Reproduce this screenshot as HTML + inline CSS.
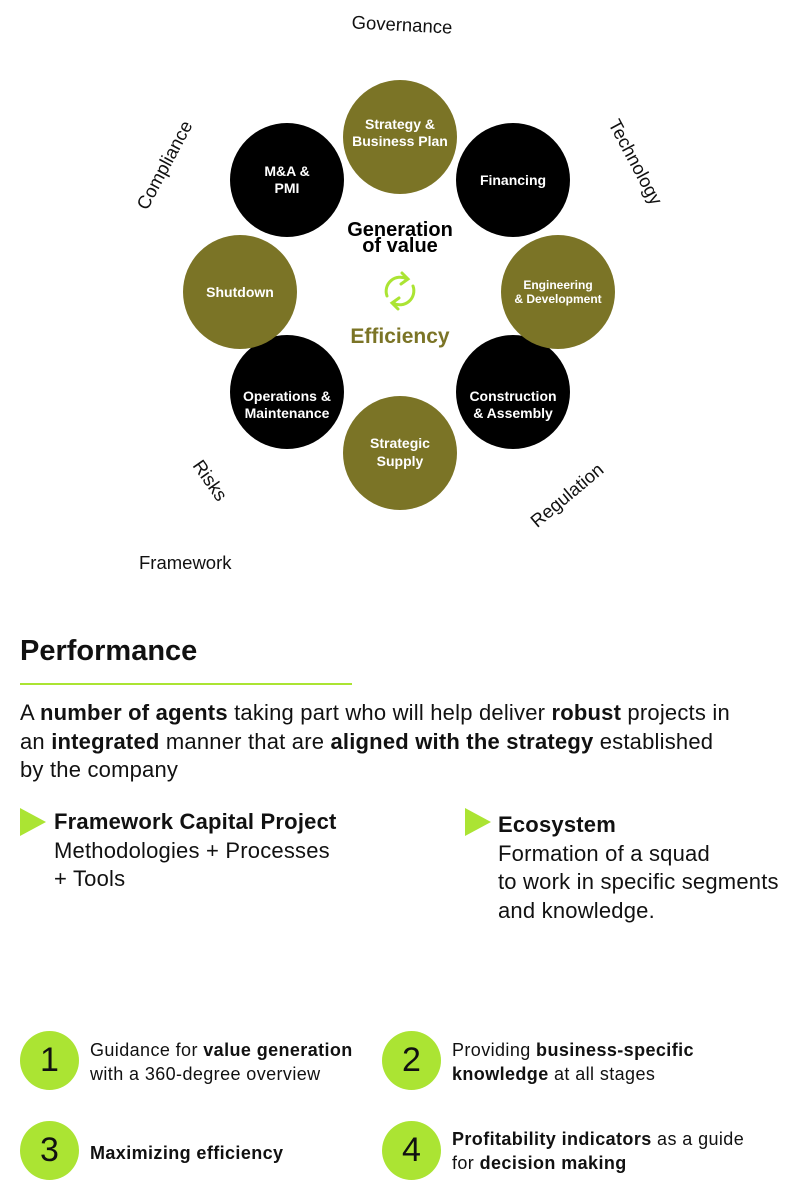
<!DOCTYPE html>
<html><head><meta charset="utf-8"><style>
*{margin:0;padding:0;box-sizing:border-box}
body{width:800px;height:1201px;background:#fff;position:relative;overflow:hidden;font-family:"Liberation Sans",sans-serif;color:#111}
.a{position:absolute;white-space:nowrap}
.p{font-size:22px;letter-spacing:0.2px;line-height:28.5px}
b{font-weight:bold}
.num{position:absolute;width:59px;height:59px;border-radius:50%;background:#abe433;font-size:34px;text-align:center;line-height:59px;color:#111}
.s{font-size:18px;letter-spacing:0.4px;line-height:24px}
.tri{position:absolute;width:0;height:0;border-top:14px solid transparent;border-bottom:14px solid transparent;border-left:26px solid #abe433}
</style></head><body>
<svg class="a" style="left:0;top:0" width="800" height="600" viewBox="0 0 800 600" font-family="Liberation Sans, sans-serif">
<g fill="#000">
<circle cx="287" cy="180" r="57"/><circle cx="513" cy="180" r="57"/>
<circle cx="287" cy="392" r="57"/><circle cx="513" cy="392" r="57"/>
</g>
<g fill="#7b7426">
<circle cx="400" cy="137" r="57"/><circle cx="240" cy="292" r="57"/>
<circle cx="558" cy="292" r="57"/><circle cx="400" cy="453" r="57"/>
</g>
<g fill="#fff" font-weight="bold" text-anchor="middle" font-size="14">
<text x="400" y="129">Strategy &amp;</text><text x="400" y="146">Business Plan</text>
<text x="287" y="176">M&amp;A &amp;</text><text x="287" y="193">PMI</text>
<text x="513" y="185">Financing</text>
<text x="240" y="297">Shutdown</text>
<text x="558" y="289" font-size="12">Engineering</text><text x="558" y="303" font-size="12">&amp; Development</text>
<text x="287" y="401">Operations &amp;</text><text x="287" y="418">Maintenance</text>
<text x="513" y="401">Construction</text><text x="513" y="418">&amp; Assembly</text>
<text x="400" y="448">Strategic</text><text x="400" y="466">Supply</text>
</g>
<g text-anchor="middle" font-weight="bold" font-size="20" fill="#000">
<text x="400" y="236">Generation</text><text x="400" y="252">of value</text>
</g>
<text x="400" y="343" text-anchor="middle" font-weight="bold" font-size="21" fill="#7b7426">Efficiency</text>
<g fill="none" stroke="#abe433" stroke-width="3" stroke-linecap="round">
<path d="M387 296 A14 14 0 0 1 407 279"/><path d="M402 273 L408 279 L401 284"/>
<path d="M413 286 A14 14 0 0 1 393 303"/><path d="M398 309 L392 303 L399 298"/>
</g>
<g font-size="18.5" fill="#111">
<text x="402" y="31" text-anchor="middle" transform="rotate(3 402 25)">Governance</text>
<text x="170" y="168" text-anchor="middle" transform="rotate(-62 170 168)">Compliance</text>
<text x="630" y="165" text-anchor="middle" transform="rotate(62 630 165)">Technology</text>
<text x="205" y="484" text-anchor="middle" transform="rotate(55 205 484)">Risks</text>
<text x="571" y="500" text-anchor="middle" transform="rotate(-40 571 500)">Regulation</text>
<text x="139" y="569">Framework</text>
</g>
</svg>
<div class="a" style="left:20px;top:635px;font-size:29px;font-weight:bold">Performance</div>
<div class="a" style="left:20px;top:683px;width:332px;height:2px;background:#abe433"></div>
<div class="a p" style="left:20px;top:699px">A <b>number of agents</b> taking part who will help deliver <b>robust</b> projects in<br>an <b>integrated</b> manner that are <b>aligned with the strategy</b> established<br>by the company</div>
<div class="tri" style="left:20px;top:808px"></div>
<div class="a p" style="left:54px;top:808px"><b>Framework Capital Project</b><br>Methodologies + Processes<br>+ Tools</div>
<div class="tri" style="left:465px;top:808px"></div>
<div class="a p" style="left:498px;top:811px"><b>Ecosystem</b><br>Formation of a squad<br>to work in specific segments<br>and knowledge.</div>
<div class="num" style="left:20px;top:1031px">1</div>
<div class="a s" style="left:90px;top:1038px">Guidance for <b>value generation</b><br>with a 360-degree overview</div>
<div class="num" style="left:382px;top:1031px">2</div>
<div class="a s" style="left:452px;top:1038px">Providing <b>business-specific</b><br><b>knowledge</b> at all stages</div>
<div class="num" style="left:20px;top:1121px">3</div>
<div class="a s" style="left:90px;top:1141px"><b>Maximizing efficiency</b></div>
<div class="num" style="left:382px;top:1121px">4</div>
<div class="a s" style="left:452px;top:1127px"><b>Profitability indicators</b> as a guide<br>for <b>decision making</b></div>
</body></html>
